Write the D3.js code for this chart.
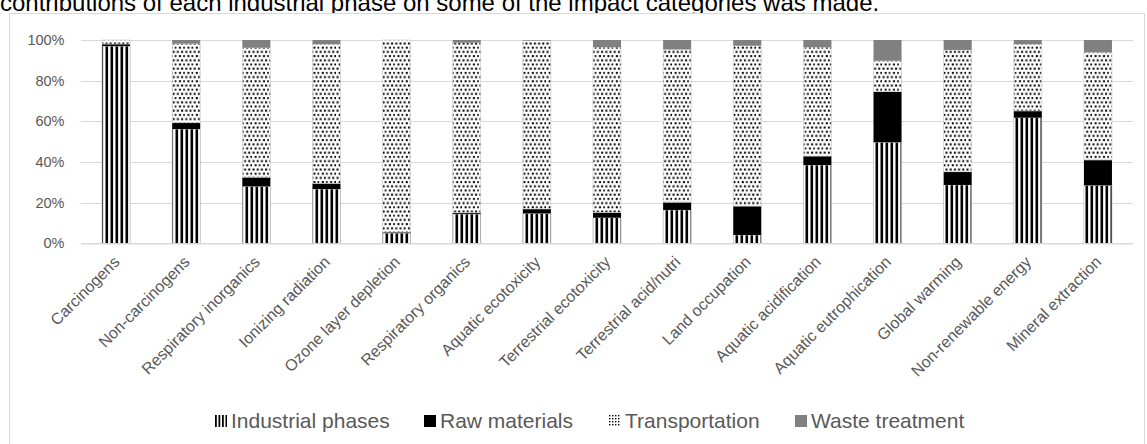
<!DOCTYPE html>
<html><head><meta charset="utf-8">
<script src="https://cdn.jsdelivr.net/npm/d3@7"></script>
<style>
html,body{margin:0;padding:0;background:#fff;overflow:hidden}
svg{display:block;font-family:"Liberation Sans",Arial,sans-serif}
</style></head>
<body>
<svg id="c" width="1147" height="444"></svg>
<script>
const categories = ["Carcinogens","Non-carcinogens","Respiratory inorganics","Ionizing radiation","Ozone layer depletion","Respiratory organics","Aquatic ecotoxicity","Terrestrial ecotoxicity","Terrestrial acid/nutri","Land occupation","Aquatic acidification","Aquatic eutrophication","Global warming","Non-renewable energy","Mineral extraction"];
const seriesNames = ["Industrial phases","Raw materials","Transportation","Waste treatment"];
const industrial = [97.0, 56.2, 28.0, 26.7, 5.0, 14.4, 14.7, 12.6, 16.4, 4.1, 38.5, 49.7, 28.7, 61.8, 28.5];
const rawMaterials = [1.0, 3.1, 4.5, 2.8, 0.5, 0.6, 2.2, 2.6, 3.8, 14.2, 4.4, 24.9, 6.5, 3.3, 12.5];
const transportation = [2.0, 38.9, 63.7, 68.5, 94.5, 83.7, 82.8, 81.3, 75.2, 78.9, 53.6, 15.2, 59.9, 32.9, 53.0];
const wasteTreatment = [0.0, 1.8, 3.8, 2.0, 0.0, 1.3, 0.3, 3.5, 4.6, 2.8, 3.5, 10.2, 4.9, 2.0, 6.0];
const yTicks = [0, 0.2, 0.4, 0.6, 0.8, 1.0];
const caption = "contributions of each industrial phase on some of the impact categories was made.";

const svg = d3.select("#c");
const defs = svg.append("defs");

// patterns
const pInd = defs.append("pattern").attr("id","pInd").attr("patternUnits","userSpaceOnUse")
  .attr("width",5).attr("height",10);
pInd.append("rect").attr("width",5).attr("height",10).attr("fill","#fff");
pInd.append("rect").attr("x",0.5).attr("width",2.6).attr("height",10).attr("fill","#000");

const pTr = defs.append("pattern").attr("id","pTr").attr("patternUnits","userSpaceOnUse")
  .attr("width",8.4).attr("height",8.4);
pTr.append("rect").attr("width",8.4).attr("height",8.4).attr("fill","#fff");
[[0.5,0.5],[4.7,0.5],[2.6,4.7],[6.8,4.7]].forEach(p=>
  pTr.append("rect").attr("x",p[0]).attr("y",p[1]).attr("width",2).attr("height",2).attr("fill","#000"));

const pIndL = defs.append("pattern").attr("id","pIndL").attr("patternUnits","userSpaceOnUse")
  .attr("width",3.5).attr("height",10);
pIndL.append("rect").attr("width",3.5).attr("height",10).attr("fill","#fff");
pIndL.append("rect").attr("width",1.8).attr("height",10).attr("fill","#000");

const pTrL = defs.append("pattern").attr("id","pTrL").attr("patternUnits","userSpaceOnUse")
  .attr("width",3).attr("height",3);
pTrL.append("rect").attr("width",3).attr("height",3).attr("fill","#fff");
pTrL.append("rect").attr("width",1.4).attr("height",1.4).attr("fill","#000");

const fills = ["url(#pInd)","#000","url(#pTr)","#808080"];
const strokes = ["#bfbfbf","none","#d0d0d0","none"];
const legendFills = ["url(#pIndL)","#000","url(#pTrL)","#808080"];

// caption
svg.append("text").attr("x",0).attr("y",11).attr("font-size",24).attr("fill","#000").text(caption);

// chart border
svg.append("rect").attr("x",9.5).attr("y",13.5).attr("width",1135).attr("height",440)
  .attr("fill","#fff").attr("stroke","#d9d9d9").attr("stroke-width",1);

const x = d3.scaleBand().domain(categories).range([81,1133]).paddingInner(0.6).paddingOuter(0.3);
const y = d3.scaleLinear().domain([0,1]).range([243.3,40]);

// gridlines
svg.append("g").selectAll("line").data(yTicks).join("line")
  .attr("x1",81).attr("x2",1133)
  .attr("y1",d=>Math.round(y(d))+0.5).attr("y2",d=>Math.round(y(d))+0.5)
  .attr("stroke","#d9d9d9").attr("stroke-width",1.2);

// y axis
const ya = svg.append("g").attr("transform","translate(64.5,0)")
  .call(d3.axisLeft(y).tickValues(yTicks).tickFormat(d3.format(".0%")).tickSize(0).tickPadding(0));
ya.select(".domain").remove();
ya.selectAll("text").attr("font-size",14.5).attr("fill","#595959").attr("font-family","Liberation Sans, Arial, sans-serif");

// stacked data
const rows = categories.map((c,i)=>({cat:c, s0:industrial[i]/100, s1:rawMaterials[i]/100, s2:transportation[i]/100, s3:wasteTreatment[i]/100}));
const stack = d3.stack().keys(["s0","s1","s2","s3"])(rows);

svg.append("g").selectAll("g").data(stack).join("g")
  .attr("fill",(d,i)=>fills[i])
  .attr("stroke",(d,i)=>strokes[i]).attr("stroke-width",0.7)
  .selectAll("rect").data(d=>d.filter(v=>v[1]-v[0]>0)).join("rect")
  .attr("x",d=>x(d.data.cat))
  .attr("width",x.bandwidth())
  .attr("y",d=>y(Math.min(1,d[1])))
  .attr("height",d=>Math.max(0,y(d[0])-y(Math.min(1,d[1]))));

// x axis baseline
svg.append("line").attr("x1",81).attr("x2",1133).attr("y1",243.8).attr("y2",243.8)
  .attr("stroke","#d9d9d9").attr("stroke-width",1.2);

// x labels
const xa = svg.append("g").attr("transform","translate(0,244)")
  .call(d3.axisBottom(x).tickSize(0).tickPadding(0));
xa.select(".domain").remove();
xa.selectAll("text")
  .attr("font-size",16).attr("fill","#595959").attr("font-family","Liberation Sans, Arial, sans-serif")
  .attr("text-anchor","end").attr("dy","0.35em").attr("y",0)
  .attr("transform","translate(0.5,15) rotate(-45)");

// legend
const legendX = [215, 424, 609, 795];
const lg = svg.append("g").selectAll("g").data(seriesNames).join("g")
  .attr("transform",(d,i)=>`translate(${legendX[i]},421)`);
lg.append("rect").attr("x",0).attr("y",-6).attr("width",12).attr("height",12)
  .attr("fill",(d,i)=>legendFills[i]);
lg.append("text").attr("x",16).attr("y",0).attr("dy","0.35em").attr("font-size",21)
  .attr("fill","#595959").text(d=>d);
</script>
</body></html>
